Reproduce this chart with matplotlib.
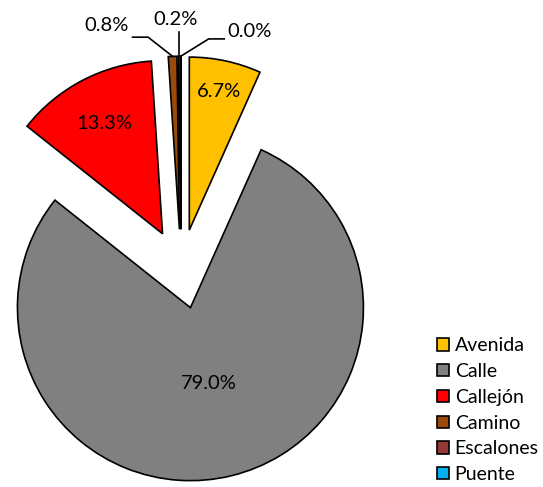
import numpy as np
import matplotlib.pyplot as plt

categories = ['Avenida', 'Calle', 'Callejón', 'Camino', 'Escalones', 'Puente']
values = [6.7, 79.0, 13.3, 0.8, 0.2, 0.03]
colors = ['#FFC000', '#808080', '#FF0000', '#9A4B0C', '#953735', '#00B0F0']

plt.rcParams['font.family'] = ['Lato', 'DejaVu Sans']

fig = plt.figure(figsize=(5.43, 4.87), dpi=100)
ax = fig.add_axes([0, 0, 1, 1])

wedges, _ = ax.pie(values, colors=colors, explode=[0.23] * len(values),
                   startangle=90, counterclock=False,
                   wedgeprops=dict(edgecolor='black', linewidth=1.2))

# pie() resets the limits, so set them afterwards (1 unit = 173 px)
ax.set_xlim((0 - 181) / 173, (543 - 181) / 173)
ax.set_ylim((269 - 487) / 173, (269 - 0) / 173)
ax.axis('off')

# labels inside the big slices
inside_dist = {0: 0.82, 1: 0.45, 2: 0.72}
for i, d in inside_dist.items():
    w = wedges[i]
    a = np.deg2rad((w.theta1 + w.theta2) / 2)
    cx, cy = w.center
    ax.text(cx + d * np.cos(a), cy + d * np.sin(a), '%.1f%%' % values[i],
            ha='center', va='center', fontsize=14.5)

# small slices: labels outside with leader lines
outside = {3: ((-0.49, 1.41), (-0.19, 1.34), 'right'),
           4: ((-0.03, 1.44), None, 'center'),
           5: ((0.31, 1.37), (0.16, 1.33), 'left')}
for i, (lab, elbow, ha) in outside.items():
    w = wedges[i]
    a = np.deg2rad((w.theta1 + w.theta2) / 2)
    cx, cy = w.center
    px, py = cx + np.cos(a), cy + np.sin(a)
    if elbow is None:
        ax.plot([px, px], [py, lab[1] - 0.07], color='black', lw=1.2)
        ax.text(lab[0], lab[1], '%.1f%%' % values[i], ha='center', va='center', fontsize=14.5)
    else:
        tx = elbow[0] - 0.09 if ha == 'right' else elbow[0] + 0.09
        ax.plot([px, elbow[0], tx], [py, elbow[1], elbow[1]], color='black', lw=1.2)
        ax.text(tx - 0.02 if ha == 'right' else tx + 0.02, lab[1], '%.1f%%' % values[i],
                ha=ha, va='center', fontsize=14.5)

leg = ax.legend(wedges, categories, loc='lower right', bbox_to_anchor=(1.01, -0.012),
                frameon=False, fontsize=14, handlelength=0.6, handleheight=0.6,
                handletextpad=0.3, labelspacing=0.45, borderaxespad=0.1)

fig.savefig('out.png', dpi=100)
